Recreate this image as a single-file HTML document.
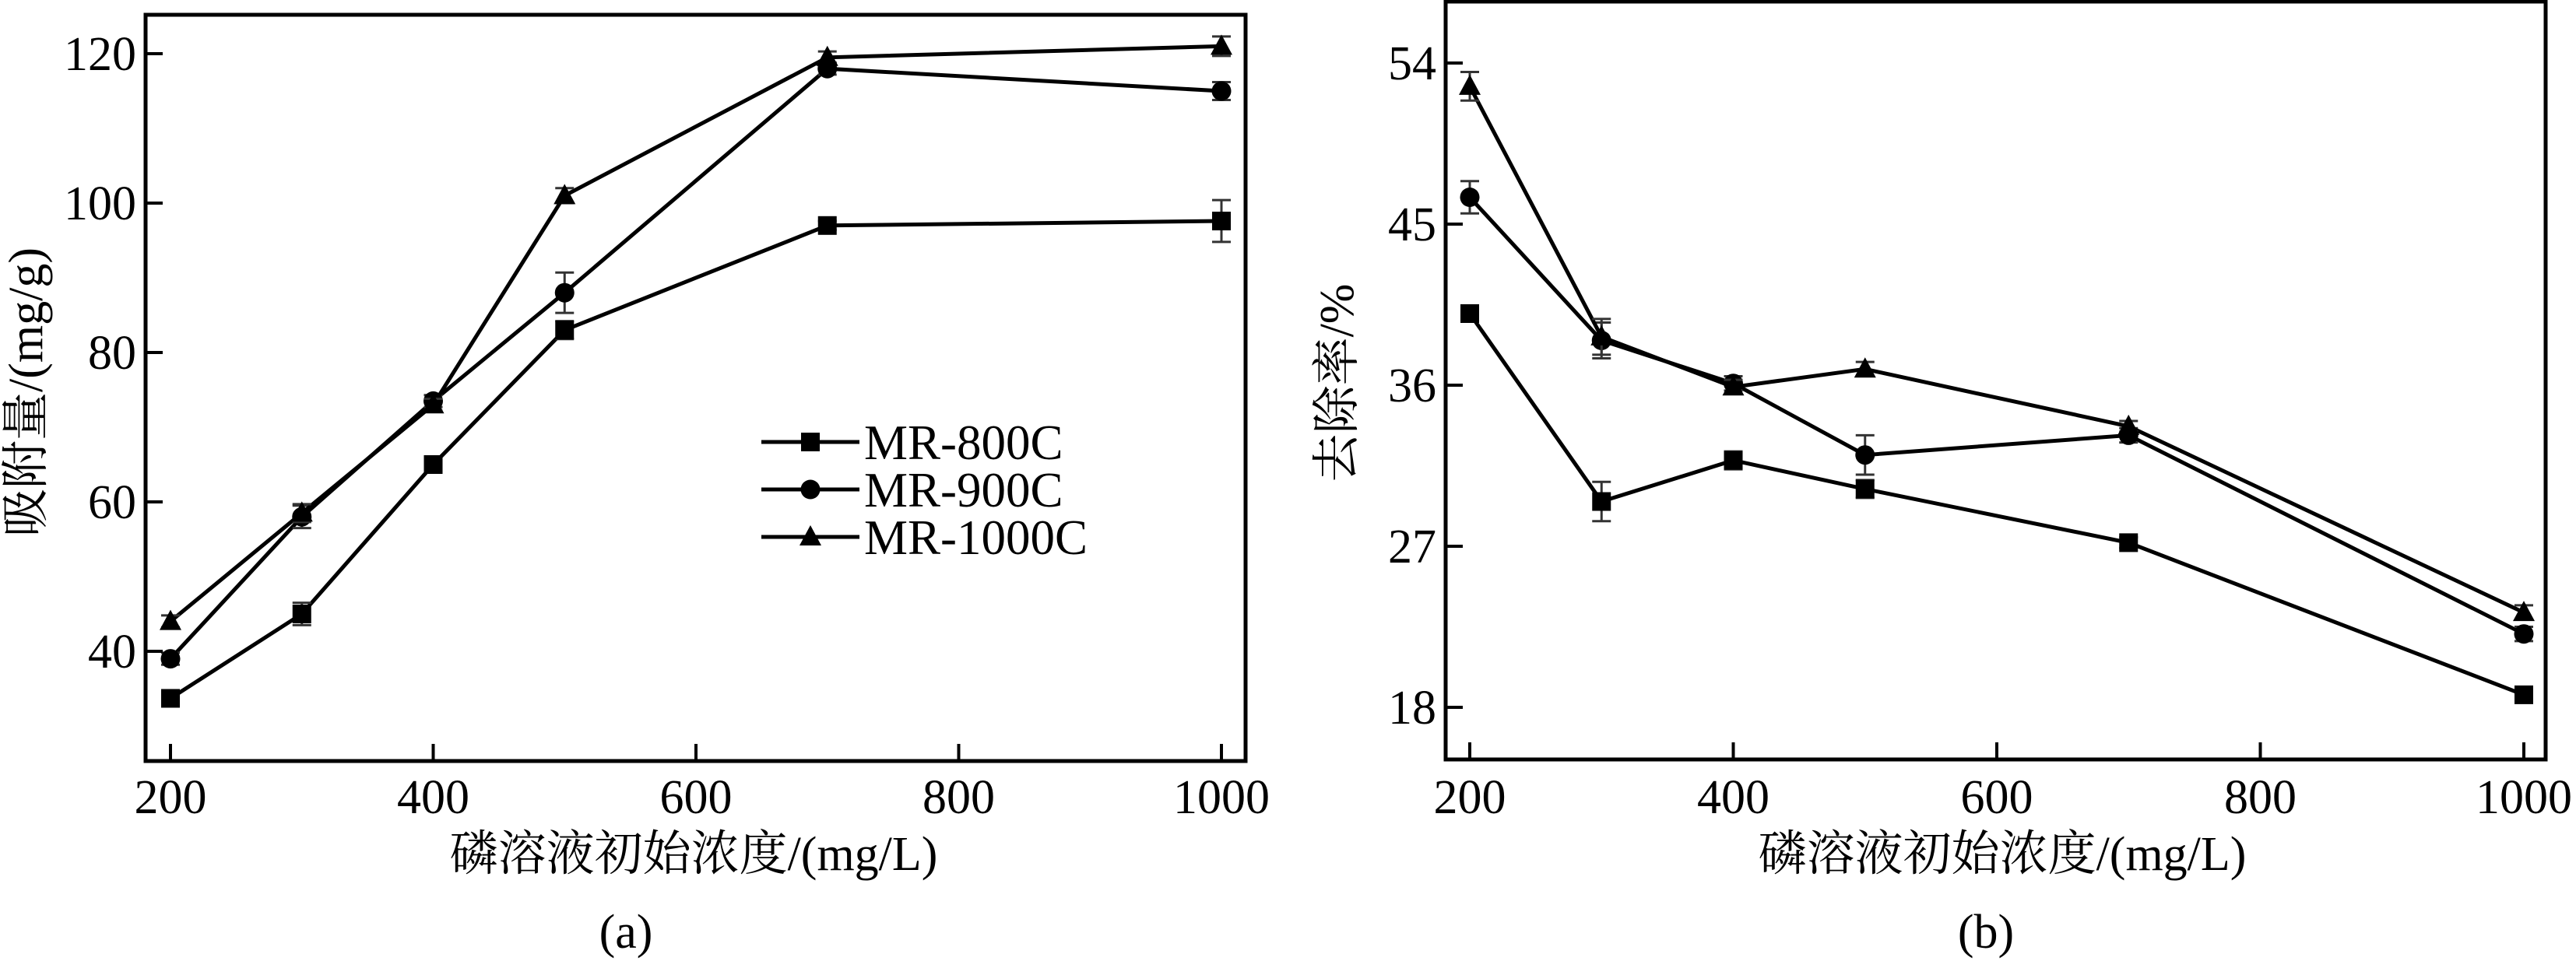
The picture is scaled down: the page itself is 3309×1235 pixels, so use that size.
<!DOCTYPE html>
<html><head><meta charset="utf-8"><style>
html,body{margin:0;padding:0;background:#fff;}
svg{display:block;font-family:"Liberation Serif","Noto Serif CJK SC",serif;}
</style></head><body>
<svg id="fig" width="3309" height="1235" viewBox="0 0 3309 1235" xmlns="http://www.w3.org/2000/svg"></svg>
<script>
const xCats=[200,300,400,500,700,1000];
const xTicks=[200,400,600,800,1000];
// Panel (a) adsorption capacity
const aTicks=[40,60,80,100,120];
const a800=[33.7,45,65,83,97,97.6];
const a900=[39,58,73.5,88,118,115];
const a1000=[44,58.5,73,101,119.5,121];
const a800Err=[0.6,1.5,0.8,1.2,0.6,2.8];
const a900Err=[0.8,1.5,0.8,2.7,0.8,1.2];
const a1000Err=[0.8,1.2,0.8,1,0.8,1.3];
// Panel (b) removal rate
const bTicks=[18,27,36,45,54];
const b800=[40,29.5,31.8,30.2,27.2,18.7];
const b900=[46.5,38.5,36.1,32.1,33.2,22.1];
const b1000=[52.7,38.7,35.9,36.9,33.7,23.3];
const b800Err=[0.4,1.1,0.5,0.5,0.3,0.4];
const b900Err=[0.9,1,0.4,1.1,0.4,0.4];
const b1000Err=[0.8,1,0.4,0.4,0.3,0.4];
const seriesNames=['MR-800C','MR-900C','MR-1000C'];
const markers=['square','circle','triangle'];

const NS='http://www.w3.org/2000/svg';
const svg=document.getElementById('fig');
function mk(tag,attrs,parent){const e=document.createElementNS(NS,tag);for(const k in attrs)e.setAttribute(k,attrs[k]);(parent||svg).appendChild(e);return e;}

function marker(g,type,cx,cy){
  let e;
  if(type==='square') e=mk('rect',{x:cx-12,y:cy-12,width:24,height:24,fill:'#000'},g);
  else if(type==='circle') e=mk('circle',{cx:cx,cy:cy,r:12.5,fill:'#000'},g);
  else e=mk('polygon',{points:`${cx},${cy-15} ${cx+14},${cy+11} ${cx-14},${cy+11}`,fill:'#000'},g);
  return e;
}

function panel(p){
  const g=mk('g',{});
  
  
  const X=v=>p.x0+(v-200)*(p.x1-p.x0)/800;
  const Y=v=>p.yA+(v-p.vA)*(p.yB-p.yA)/(p.vB-p.vA);
  // series
  p.series.forEach((s,si)=>{
    const sg=mk('g',{},g);
    
    
    const pts=xCats.map((c,i)=>X(c)+','+Y(s[i])).join(' ');
    const pl=mk('polyline',{points:pts,fill:'none',stroke:'#000','stroke-width':5},sg);
    
    
    xCats.forEach((c,i)=>{
      const cx=X(c),cy=Y(s[i]),e=p.errs[si][i];
      const t=Y(s[i]+e),b=Y(s[i]-e);
      const eb=mk('path',{d:`M${cx},${t}V${b}M${cx-12},${t}H${cx+12}M${cx-12},${b}H${cx+12}`,stroke:'#333','stroke-width':3,fill:'none'},sg);
      
      
      const m=marker(sg,markers[si],cx,cy);
      
      
    });
  });
  // frame
  const fr=mk('rect',{x:p.bx0,y:p.by0,width:p.bx1-p.bx0,height:p.by1-p.by0,fill:'none',stroke:'#000','stroke-width':5},g);
  
  
  xTicks.forEach(v=>{
    const x=X(v);
    const t=mk('line',{x1:x,x2:x,y1:p.by1,y2:p.by1-22,stroke:'#000','stroke-width':4},g);
    
    
    const l=mk('text',{x:x,y:1045,'font-size':62,'text-anchor':'middle'},g);
    l.textContent=v;
    
    
  });
  p.ticks.forEach(v=>{
    const y=Y(v);
    const t=mk('line',{x1:p.bx0,x2:p.bx0+22,y1:y,y2:y,stroke:'#000','stroke-width':4},g);
    
    
    const l=mk('text',{x:p.bx0-12,y:y+21,'font-size':62,'text-anchor':'end'},g);
    l.textContent=v;
    
    
  });
  const xt=mk('text',{x:p.xtx,y:1118,'font-size':62,'text-anchor':'middle'},g);
  xt.textContent='磷溶液初始浓度/(mg/L)';
  
  
  const yt=mk('text',{x:0,y:0,'font-size':62,'text-anchor':'middle',transform:`translate(${p.ytx},${p.yty}) rotate(-90)`},g);
  yt.textContent=p.ytitle;
  
  
  const cap=mk('text',{x:p.capx,y:1218,'font-size':62,'text-anchor':'middle'},g);
  cap.textContent=p.cap;
  
  
  return g;
}

panel({name:'panel-a-adsorption',x0:219,x1:1569,vA:120,yA:69,vB:100,yB:261,bx0:187,bx1:1600,by0:19,by1:978,
  series:[a800,a900,a1000],errs:[a800Err,a900Err,a1000Err],ticks:aTicks,
  xtx:891,ytx:54,yty:504,ytitle:'吸附量/(mg/g)',cap:'(a)',capx:804});
panel({name:'panel-b-removal',x0:1888,x1:3242,vA:54,yA:81,vB:45,yB:288,bx0:1857,bx1:3270,by0:2,by1:976,
  series:[b800,b900,b1000],errs:[b800Err,b900Err,b1000Err],ticks:bTicks,
  xtx:2572,ytx:1738,yty:492,ytitle:'去除率/%',cap:'(b)',capx:2551});

// legend
const lg=mk('g',{});


seriesNames.forEach((n,i)=>{
  const y=568+i*61;
  const e=mk('g',{},lg);
  
  
  mk('line',{x1:978,x2:1104,y1:y,y2:y,stroke:'#000','stroke-width':5},e);
  marker(e,markers[i],1041,y);
  const t=mk('text',{x:1110,y:y+22,'font-size':63},e);
  t.textContent=n;
});
</script>
</body></html>
